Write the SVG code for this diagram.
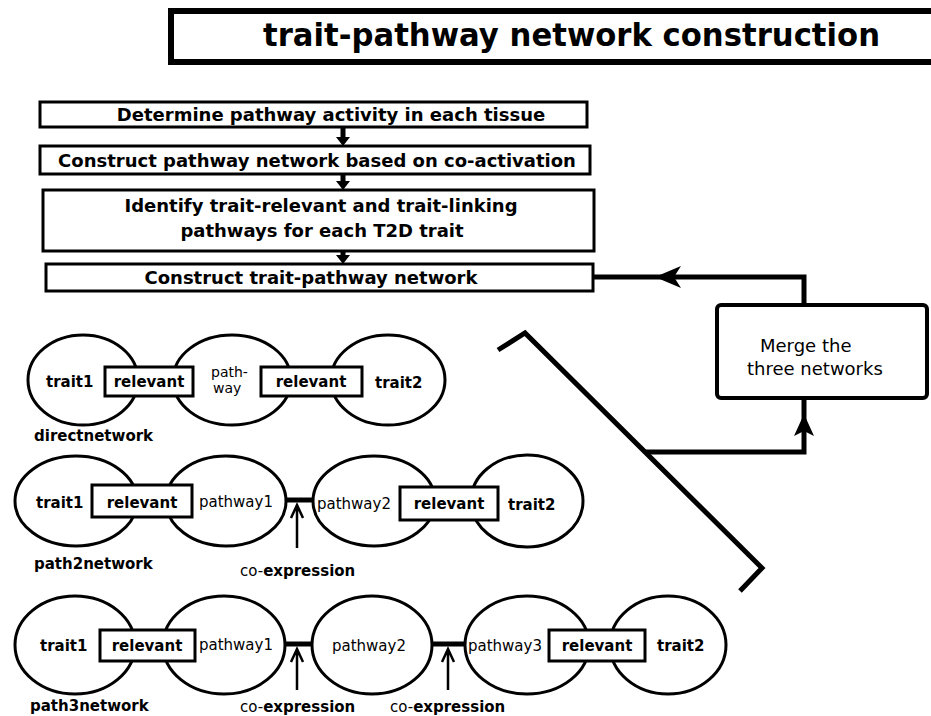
<svg xmlns="http://www.w3.org/2000/svg" width="931" height="716" viewBox="0 0 931 716">
<style>
.bx{fill:#fff;stroke:#000;stroke-width:3}
.el{fill:#fff;stroke:#000;stroke-width:3}
.b{font-family:"DejaVu Sans",Verdana,sans-serif;font-weight:bold;fill:#000}
.n{font-family:"DejaVu Sans",Verdana,sans-serif;fill:#000}
.ln{fill:none;stroke:#000;stroke-width:5}
.cl{fill:none;stroke:#000;stroke-width:5}
.ar{fill:none;stroke:#000;stroke-width:2.5}
</style>
<rect width="931" height="716" fill="#fff"/>
<g id="title">
<rect x="171" y="11" width="790" height="51" fill="#fff" stroke="#000" stroke-width="6"/>
<text class="b" x="263" y="46" font-size="32" textLength="617" lengthAdjust="spacingAndGlyphs">trait-pathway network construction</text>
</g>
<g id="step1">
<rect class="bx" x="40" y="102" width="547" height="25"/>
<text class="b" x="331" y="121" font-size="18" text-anchor="middle">Determine pathway activity in each tissue</text>
</g>
<g id="step2">
<rect class="bx" x="40" y="146" width="550" height="28"/>
<text class="b" x="317" y="167" font-size="18" text-anchor="middle">Construct pathway network based on co-activation</text>
</g>
<g id="step3">
<rect class="bx" x="43" y="190" width="551" height="61"/>
<text class="b" x="321" y="212" font-size="18" text-anchor="middle">Identify trait-relevant and trait-linking</text>
<text class="b" x="322" y="237" font-size="18" text-anchor="middle">pathways for each T2D trait</text>
</g>
<g id="step4">
<rect class="bx" x="46" y="264" width="547" height="27"/>
<text class="b" x="311" y="284" font-size="18" text-anchor="middle">Construct trait-pathway network</text>
</g>
<g id="merge">
<rect x="717" y="305" width="210" height="93" rx="4" fill="#fff" stroke="#000" stroke-width="4"/>
<text class="n" x="760" y="352" font-size="18">Merge the</text>
<text class="n" x="747" y="375" font-size="18">three networks</text>
</g>
<g id="connectors">
<path class="ln" d="M343,127V140M343,174V183M343,251V257" stroke-width="4"/>
<path d="M336,137L350,137L343,146Z M336,181L350,181L343,190Z M336,255L350,255L343,264Z" fill="#000"/>
<path class="cl" d="M593,277H804V305"/>
<path d="M655,277L681,266L674,277L681,288Z" fill="#000"/>
<path class="cl" d="M804,398V452H646"/>
<path d="M804,414L814,436L804,431L794,436Z" fill="#000"/>
<path class="ln" d="M498,350L525,333L762,568L740,591" stroke-width="6" stroke-linejoin="miter"/>
</g>
<g id="directnetwork">
<ellipse class="el" cx="83" cy="380" rx="55" ry="45"/>
<ellipse class="el" cx="232" cy="380" rx="59" ry="45"/>
<ellipse class="el" cx="388" cy="380" rx="57" ry="45"/>
<rect class="bx" x="105" y="367" width="88" height="29"/>
<rect class="bx" x="261" y="367" width="101" height="29"/>
<text class="b" x="46" y="387" font-size="15">trait1</text>
<text class="b" x="149" y="387" font-size="15" text-anchor="middle">relevant</text>
<text class="n" x="211" y="377" font-size="14">path-</text>
<text class="n" x="213" y="393" font-size="14">way</text>
<text class="b" x="311" y="387" font-size="15" text-anchor="middle">relevant</text>
<text class="b" x="375" y="388" font-size="15">trait2</text>
<text class="b" x="34" y="441" font-size="15">directnetwork</text>
</g>
<g id="path2network">
<ellipse class="el" cx="76" cy="501" rx="61" ry="45"/>
<ellipse class="el" cx="226" cy="501" rx="60" ry="45"/>
<ellipse class="el" cx="374" cy="501" rx="61" ry="45"/>
<ellipse class="el" cx="527" cy="501" rx="56" ry="46"/>
<rect class="bx" x="92" y="485" width="100" height="32"/>
<rect class="bx" x="400" y="487" width="98" height="33"/>
<path class="ln" d="M286,500H313"/>
<path class="ar" d="M297,548V506M291,518L297,505L303,518"/>
<text class="b" x="36" y="508" font-size="15">trait1</text>
<text class="b" x="142" y="508" font-size="15" text-anchor="middle">relevant</text>
<text class="n" x="199" y="507" font-size="15">pathway1</text>
<text class="n" x="317" y="509" font-size="15">pathway2</text>
<text class="b" x="449" y="509" font-size="15" text-anchor="middle">relevant</text>
<text class="b" x="508" y="510" font-size="15">trait2</text>
<text class="b" x="240" y="576" font-size="15"><tspan font-weight="normal">co-</tspan>expression</text>
<text class="b" x="34" y="569" font-size="15">path2network</text>
</g>
<g id="path3network">
<ellipse class="el" cx="75" cy="645" rx="60" ry="49"/>
<ellipse class="el" cx="224" cy="645" rx="61" ry="49"/>
<ellipse class="el" cx="372" cy="645" rx="60" ry="49"/>
<ellipse class="el" cx="527" cy="645" rx="62" ry="49"/>
<ellipse class="el" cx="668" cy="645" rx="58" ry="49"/>
<rect class="bx" x="100" y="630" width="95" height="31"/>
<rect class="bx" x="549" y="630" width="96" height="31"/>
<path class="ln" d="M285,644H312M432,644H465"/>
<path class="ar" d="M297,690V650M291,662L297,649L303,662M448,690V650M442,662L448,649L454,662"/>
<text class="b" x="40" y="651" font-size="15">trait1</text>
<text class="b" x="147" y="651" font-size="15" text-anchor="middle">relevant</text>
<text class="n" x="199" y="650" font-size="15">pathway1</text>
<text class="n" x="332" y="651" font-size="15">pathway2</text>
<text class="n" x="468" y="651" font-size="15">pathway3</text>
<text class="b" x="597" y="651" font-size="15" text-anchor="middle">relevant</text>
<text class="b" x="657" y="651" font-size="15">trait2</text>
<text class="b" x="240" y="712" font-size="15"><tspan font-weight="normal">co-</tspan>expression</text>
<text class="b" x="390" y="712" font-size="15"><tspan font-weight="normal">co-</tspan>expression</text>
<text class="b" x="30" y="711" font-size="15">path3network</text>
</g>
</svg>
